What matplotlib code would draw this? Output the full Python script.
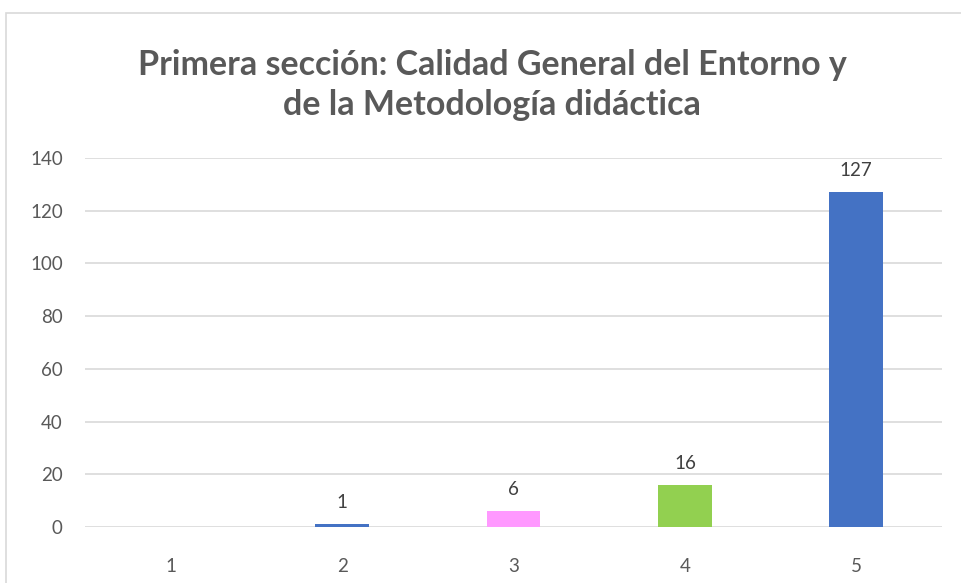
import matplotlib.pyplot as plt
from matplotlib.patches import Rectangle

categories = ['1', '2', '3', '4', '5']
values = [0, 1, 6, 16, 127]
bar_colors = ['#4472C4', '#4472C4', '#FF99FF', '#92D050', '#4472C4']
yticks = [0, 20, 40, 60, 80, 100, 120, 140]

plt.rcParams['font.family'] = ['Lato', 'DejaVu Sans']

fig = plt.figure(figsize=(9.61, 5.83), dpi=100)
ax = fig.add_axes([85/961, 1 - 527/583, 857/961, (527 - 158)/583])

# chart frame, cut off at the right and bottom
fig.patches.append(Rectangle((6/961, -0.1), 1.1, (583 - 13)/583 + 0.1,
                             transform=fig.transFigure, fill=False,
                             edgecolor='#D9D9D9', linewidth=1.2))

x = range(len(categories))
bars = ax.bar(x, values, width=0.315, color=bar_colors, zorder=3)
for b, v in zip(bars, values):
    if v > 0:
        ax.text(b.get_x() + b.get_width()/2, v + 5, str(v), ha='center',
                va='bottom', fontsize=13.5, color='#404040')

ax.set_xlim(-0.5, 4.5)
ax.set_ylim(0, 140)
ax.set_yticks(yticks)
ax.set_xticks(list(x))
ax.set_xticklabels(categories)
ax.grid(axis='y', color='#D9D9D9', linewidth=1.2, zorder=0)
for s in ax.spines.values():
    s.set_visible(False)
ax.tick_params(length=0, labelsize=13.5, colors='#595959')
ax.tick_params(axis='x', pad=22)
ax.tick_params(axis='y', pad=16)

fig.text(492/961, 1 - 85/583, 'Primera sección: Calidad General del Entorno y\nde la Metodología didáctica',
         ha='center', va='center', fontsize=24.5, fontweight='bold', color='#595959',
         linespacing=1.32)

fig.savefig('out.png', dpi=100)
